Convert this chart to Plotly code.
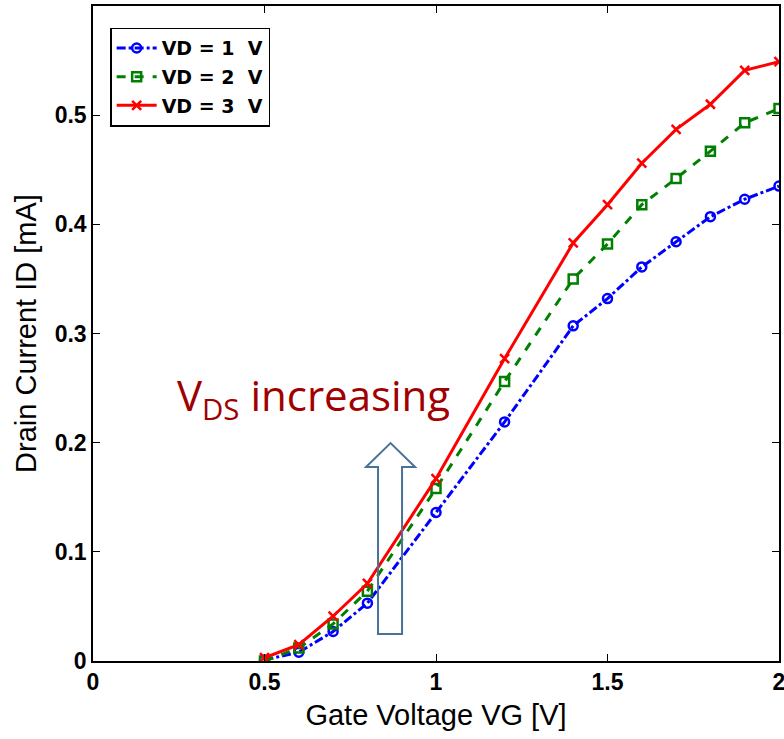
import plotly.graph_objects as go

vg = [0.5, 0.6, 0.7, 0.8, 1.0, 1.2, 1.4, 1.5, 1.6, 1.7, 1.8, 1.9, 2.0]
id_vd1 = [0.001, 0.008, 0.027, 0.053, 0.136, 0.219, 0.307, 0.332, 0.361, 0.384, 0.407, 0.423, 0.435]
id_vd2 = [0.000, 0.012, 0.034, 0.064, 0.158, 0.256, 0.350, 0.382, 0.418, 0.442, 0.467, 0.493, 0.506]
id_vd3 = [0.003, 0.015, 0.041, 0.071, 0.167, 0.277, 0.383, 0.418, 0.456, 0.487, 0.510, 0.541, 0.549]

x_ticks = [0, 0.5, 1, 1.5, 2]
x_tick_labels = ["0", "0.5", "1", "1.5", "2"]
y_ticks = [0, 0.1, 0.2, 0.3, 0.4, 0.5]
y_tick_labels = ["0", "0.1", "0.2", "0.3", "0.4", "0.5"]

fig = go.Figure()
fig.add_trace(go.Scatter(x=vg, y=id_vd1, name="VD = 1  V", mode="lines+markers", legendgroup="g1",
                         line=dict(color="#0000FF", width=3, dash="dashdot"),
                         marker=dict(symbol="circle-open", size=9, color="#0000FF", line=dict(width=2.5))))
fig.add_trace(go.Scatter(x=vg, y=id_vd2, name="VD = 2  V", mode="lines+markers", legendgroup="g2",
                         line=dict(color="#008000", width=3, dash="dash"),
                         marker=dict(symbol="square-open", size=9, color="#008000", line=dict(width=2.5))))
fig.add_trace(go.Scatter(x=vg, y=id_vd3, name="VD = 3  V", mode="lines+markers", legendgroup="g3",
                         line=dict(color="#FF0000", width=3),
                         marker=dict(symbol="x-thin", size=9, color="#FF0000", line=dict(width=2.5, color="#FF0000"))))

# block arrow annotation
ax = [0.831, 0.901, 0.796, 0.939]
path = ("M {a},0.0247 L {b},0.0247 L {b},0.1777 L {d},0.1777 L {m},0.1996 "
        "L {c},0.1777 L {a},0.1777 Z").format(a=ax[0], b=ax[1], c=ax[2], d=ax[3], m=(ax[2] + ax[3]) / 2)
fig.add_shape(type="path", path=path, xref="x", yref="y",
              line=dict(color="#4A7298", width=2), fillcolor="rgba(255,255,255,0)")

fig.add_annotation(x=0.643, y=0.241, xref="x", yref="y", showarrow=False, xanchor="center", yanchor="middle",
                   text="V<sub>DS</sub> increasing",
                   font=dict(family="Open Sans, Noto Sans, sans-serif", size=42, color="#A00000"))

axis_common = dict(showline=True, linecolor="black", linewidth=1.5, mirror="ticks",
                   ticks="inside", ticklen=7, tickcolor="black", showgrid=False, zeroline=False,
                   automargin=False,
                   tickfont=dict(family="Liberation Sans, Arial, sans-serif", size=23, color="black", weight="bold"))

fig.update_layout(
    width=784, height=739,
    margin=dict(l=93, r=5, t=6, b=78),
    plot_bgcolor="white", paper_bgcolor="white",
    xaxis=dict(range=[0, 2], tickvals=x_ticks, ticktext=x_tick_labels, ticklabeloverflow="allow",
               title=dict(text="Gate Voltage VG [V]", standoff=10,
                          font=dict(family="Liberation Sans, Arial, sans-serif", size=29, color="black")),
               **axis_common),
    yaxis=dict(range=[0, 0.6], tickvals=y_ticks, ticktext=y_tick_labels,
               title=dict(text="Drain Current ID [mA]", standoff=10,
                          font=dict(family="Liberation Sans, Arial, sans-serif", size=29, color="black")),
               **axis_common),
    legend=dict(x=0.025, y=0.967, xanchor="left", yanchor="top",
                bgcolor="white", bordercolor="black", borderwidth=1.5,
                font=dict(family="DejaVu Sans, sans-serif", size=19, color="black", weight="bold"),
                tracegroupgap=1, itemwidth=40),
    showlegend=True,
)

fig.write_html("out.html")
